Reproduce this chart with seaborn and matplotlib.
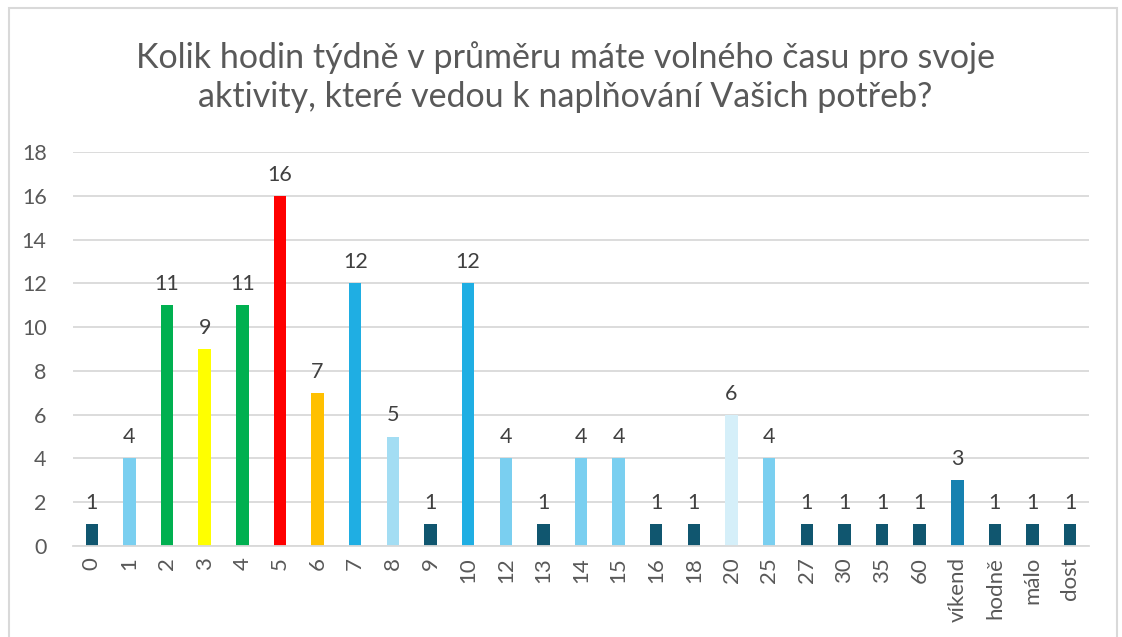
import matplotlib
matplotlib.use("Agg")
import matplotlib.pyplot as plt
import seaborn as sns
import pandas as pd
from matplotlib.patches import Rectangle

categories = ["0", "1", "2", "3", "4", "5", "6", "7", "8", "9", "10", "12", "13", "14", "15",
              "16", "18", "20", "25", "27", "30", "35", "60", "víkend", "hodně", "málo", "dost"]
values = [1, 4, 11, 9, 11, 16, 7, 12, 5, 1, 12, 4, 1, 4, 4, 1, 1, 6, 4, 1, 1, 1, 1, 3, 1, 1, 1]

DARK = "#10566F"
LIGHT = "#7ACFF0"
BLUE = "#1FAEE3"
bar_colors = [DARK, LIGHT, "#00B050", "#FFFF00", "#00B050", "#FF0000", "#FFC000", BLUE,
              "#A3DDF3", DARK, BLUE, LIGHT, DARK, LIGHT, LIGHT, DARK, DARK, "#D5EFF9",
              LIGHT, DARK, DARK, DARK, DARK, "#1681B0", DARK, DARK, DARK]

title = "Kolik hodin týdně v průměru máte volného času pro svoje\naktivity, které vedou k naplňování Vašich potřeb?"
yticks = [0, 2, 4, 6, 8, 10, 12, 14, 16, 18]

sns.set_theme(style="white")
plt.rcParams["font.family"] = ["Lato", "DejaVu Sans"]

df = pd.DataFrame({"cat": categories, "val": values})

fig = plt.figure(figsize=(11.22, 6.37), dpi=100)
W, H = 1122, 637
ax = fig.add_axes([73 / W, 1 - 546 / H, (1089 - 73) / W, (546 - 152) / H])

sns.barplot(data=df, x="cat", y="val", hue="cat", palette=bar_colors, legend=False,
            width=0.33, ax=ax, saturation=1, linewidth=0)

ax.set_ylim(0, 18)
ax.set_xlim(-0.5, len(categories) - 0.5)
ax.set_yticks(yticks)
ax.set_yticklabels([str(t) for t in yticks])
ax.yaxis.grid(True, color="#D9D9D9", linewidth=1.3)
ax.set_axisbelow(True)
for s in ["top", "right", "left"]:
    ax.spines[s].set_visible(False)
ax.spines["bottom"].set_color("#D9D9D9")
ax.spines["bottom"].set_linewidth(1.3)
ax.set_xlabel("")
ax.set_ylabel("")
ax.tick_params(axis="y", length=0, pad=19, labelsize=15.5, labelcolor="#595959")
ax.tick_params(axis="x", length=0, pad=8, labelsize=16, labelcolor="#595959")
plt.setp(ax.get_xticklabels(), rotation=90, va="top", ha="center")

for i, v in enumerate(values):
    ax.annotate(str(v), (i, v), xytext=(0, 8), textcoords="offset points",
                ha="center", va="bottom", fontsize=15.5, color="#404040")

fig.text(565 / W, 1 - 77 / H, title, ha="center", va="center", fontsize=24.5,
         color="#595959", linespacing=1.28)

fig.patches.append(Rectangle((9 / W, -0.05), (1117 - 9) / W, 1.05 - 8 / H,
                             transform=fig.transFigure, fill=False,
                             edgecolor="#D9D9D9", linewidth=1.5))

fig.savefig("out.png", dpi=100, facecolor="white")
